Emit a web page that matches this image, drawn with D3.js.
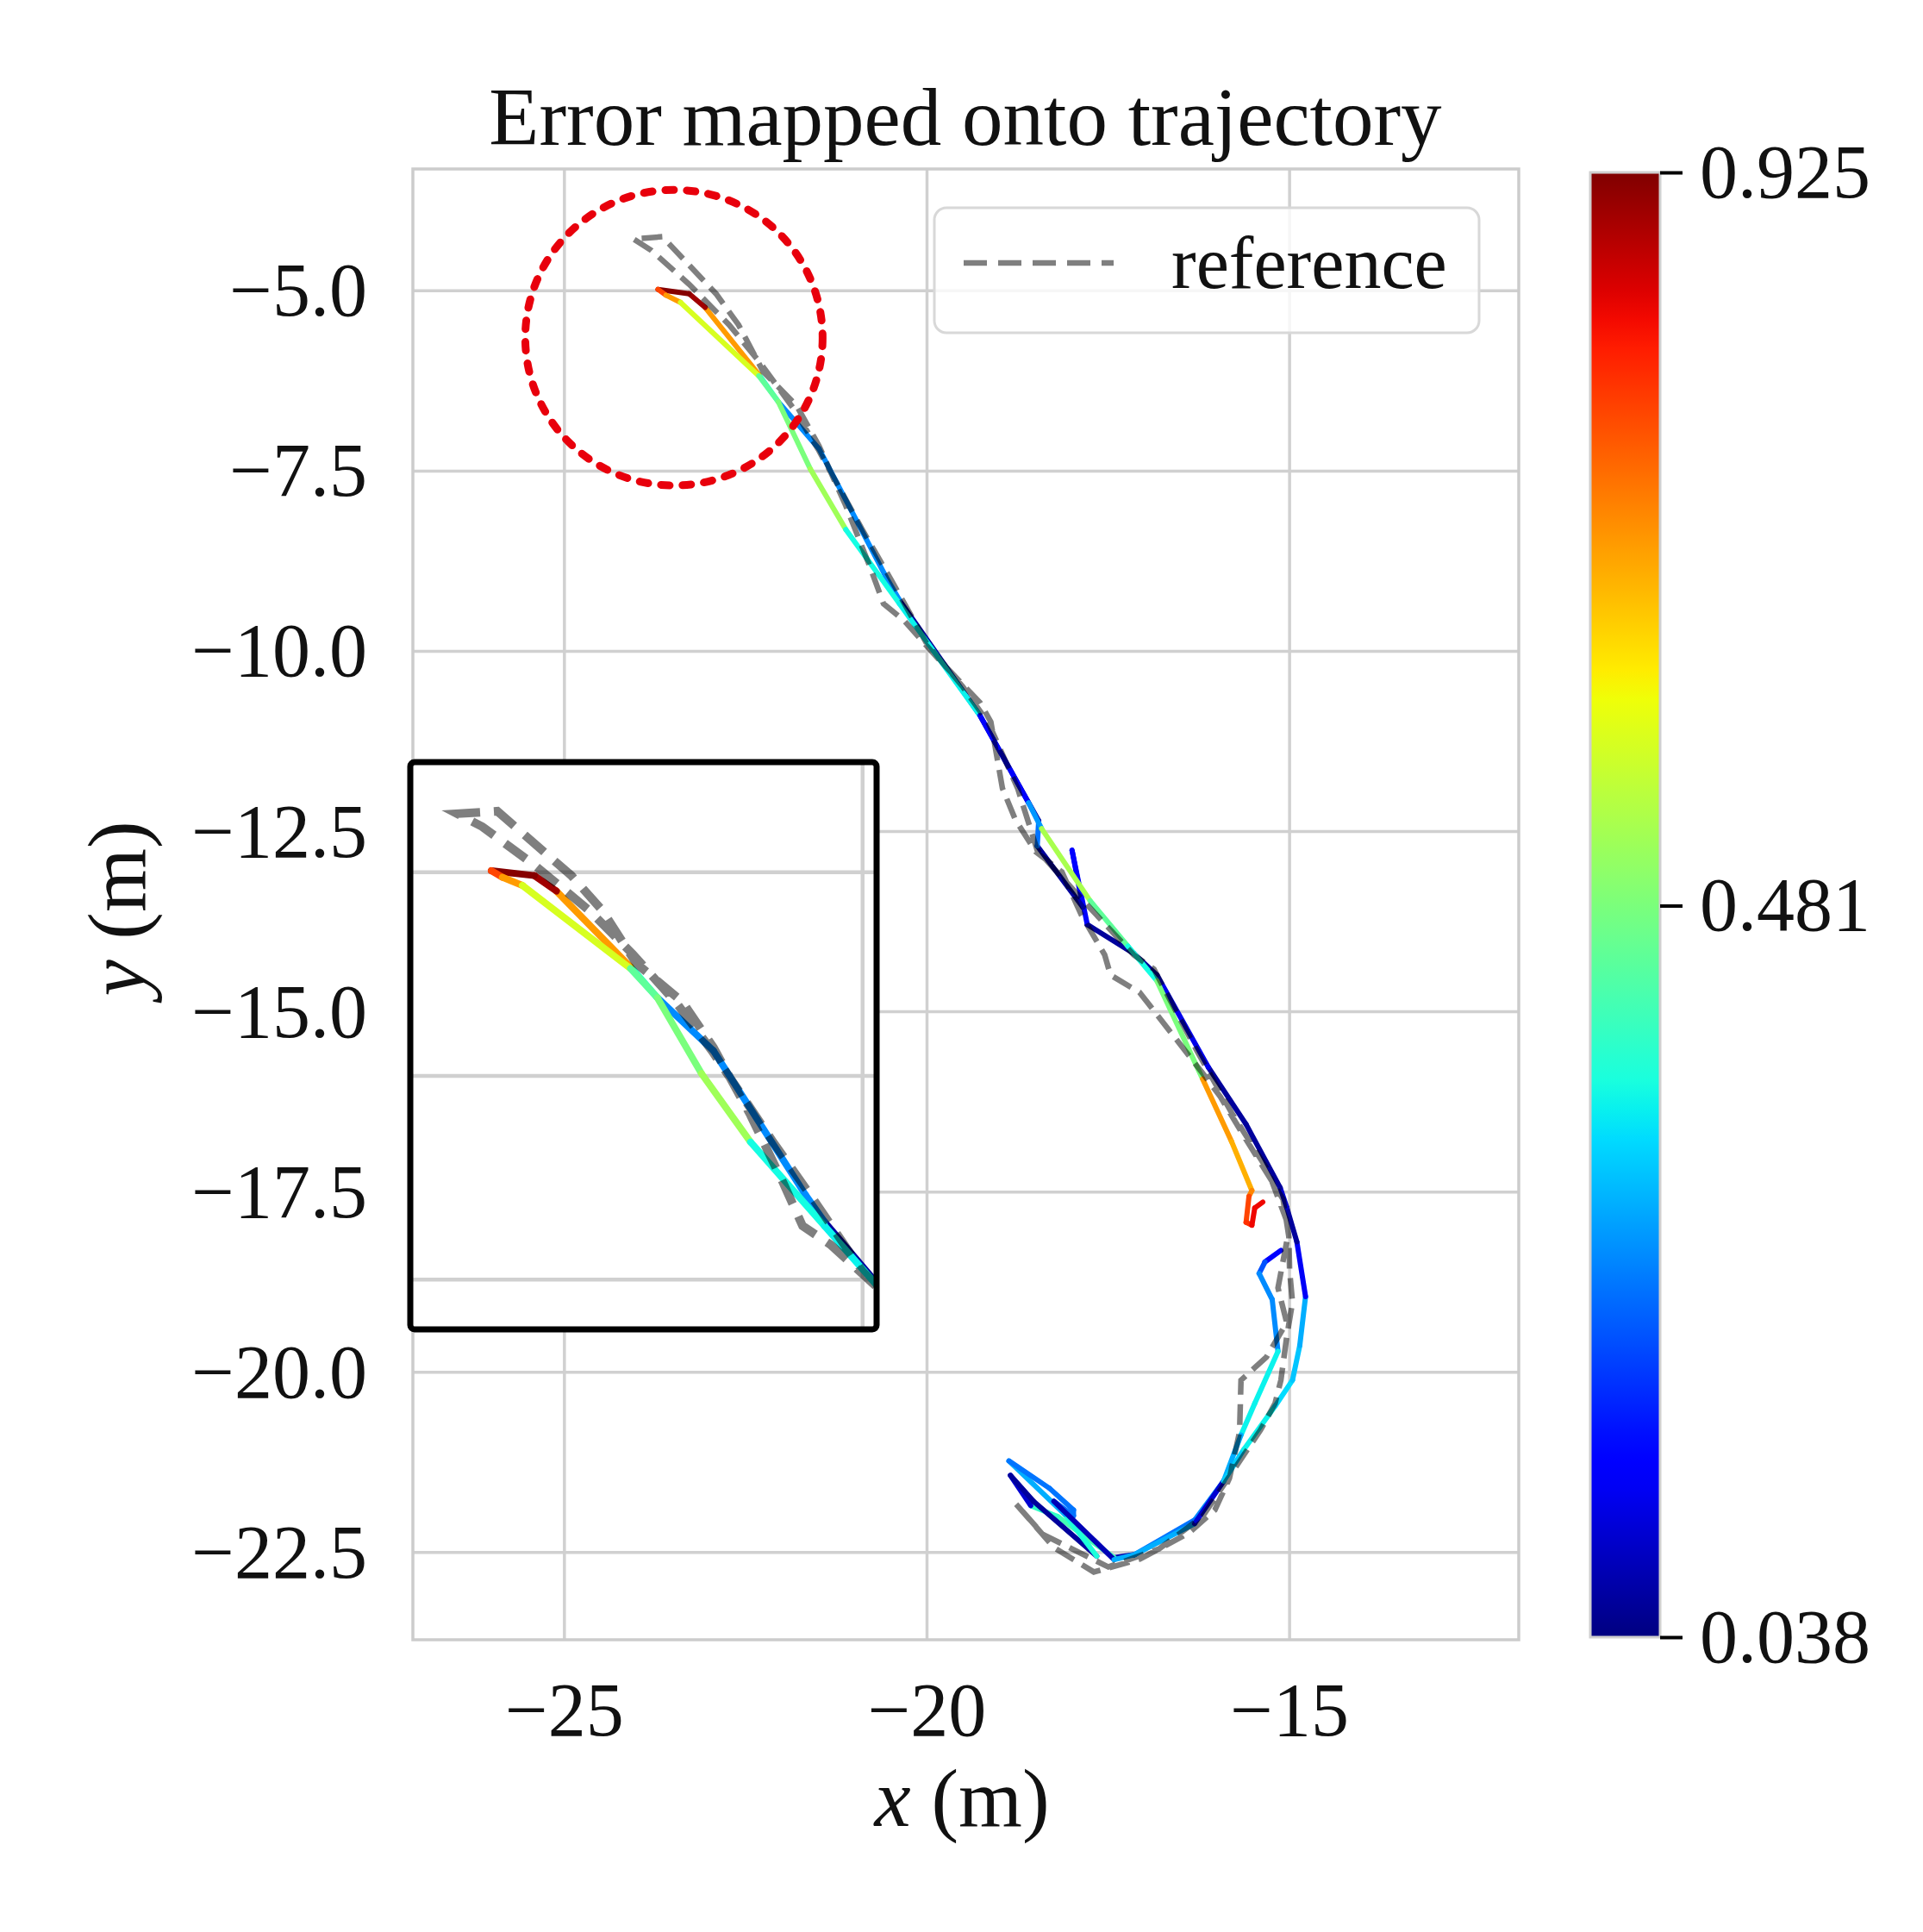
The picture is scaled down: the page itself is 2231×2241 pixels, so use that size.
<!DOCTYPE html>
<html lang="en">
<head>
    <meta charset="UTF-8">
    <title>Error mapped onto trajectory</title>
    <style>
        body {
            margin: 0;
            background-color: #ffffff;
            overflow: hidden;
        }
        svg text {
            font-family: "Liberation Serif", "DejaVu Serif", serif;
            fill: #111;
        }
        .grid line {
            stroke: #d0d0d0;
        }
        .tick-label {
            font-size: 88px;
        }
    </style>
</head>
<body>
    <svg id="chart" width="2231" height="2241"></svg>

    <script src="https://d3js.org/d3.v7.min.js"></script>
    <script>
        // estimated trajectory (x, y in metres) and error per segment
        const estX = [-15.12, -15.34, -15.42, -15.24, -15.16, -15.48, -15.67, -15.91, -16.31, -17.14,
                      -17.42, -18.20, -18.57, -18.85, -18.53, -17.66, -18.10, -18.87, -18.31, -17.98,
                      -17.98, -18.25, -17.42, -17.14, -16.31, -15.91, -15.63, -15.20, -14.96, -14.86,
                      -14.78, -14.90, -15.04, -15.13, -15.60, -16.12, -16.83, -17.15, -17.79, -18.00,
                      -17.85, -18.48, -18.46, -19.27, -20.38, -20.57, -21.49, -22.05, -22.32, -23.06,
                      -23.28, -23.71, -23.60, -23.40, -22.32, -22.05, -21.61, -21.12, -20.38, -19.27,
                      -18.60, -18.42, -17.75, -17.23, -16.83, -16.20, -15.80, -15.52, -15.56, -15.60,
                      -15.52, -15.48, -15.37];
        const estY = [-18.31, -18.47, -18.63, -18.99, -19.71, -20.43, -20.87, -21.51, -22.05, -22.53,
                      -22.57, -22.00, -21.85, -21.43, -21.79, -22.55, -21.97, -21.23, -21.61, -21.91,
                      -21.99, -21.79, -22.60, -22.53, -22.10, -21.51, -21.07, -20.47, -20.11, -19.63,
                      -18.95, -18.19, -17.71, -17.44, -16.56, -15.77, -14.49, -14.19, -13.79, -12.76,
                      -13.55, -12.70, -12.35, -10.89, -9.29, -8.96, -7.19, -6.54, -6.16, -5.23,
                      -5.04, -4.98, -5.06, -5.16, -6.18, -6.54, -7.47, -8.31, -9.34, -10.89,
                      -12.10, -12.46, -13.46, -14.09, -14.57, -15.93, -16.80, -17.48, -17.56, -17.92,
                      -17.96, -17.72, -17.64];
        const estErr = [0.14, 0.22, 0.27, 0.27, 0.36, 0.36, 0.30, 0.27, 0.25, 0.07,
                        0.42, 0.40, 0.10, 0.06, 0.06, 0.38, 0.30, 0.25, 0.25, 0.25,
                        0.25, 0.08, 0.30, 0.30, 0.10, 0.33, 0.36, 0.34, 0.32, 0.30,
                        0.13, 0.06, 0.10, 0.06, 0.06, 0.12, 0.06, 0.06, 0.15, 0.15,
                        0.06, 0.25, 0.06, 0.06, 0.27, 0.27, 0.27, 0.40, 0.70, 0.90,
                        0.92, 0.78, 0.70, 0.58, 0.45, 0.48, 0.52, 0.37, 0.36, 0.14,
                        0.28, 0.53, 0.45, 0.37, 0.48, 0.70, 0.68, 0.72, 0.78, 0.80,
                        0.84, 0.84, 0.84];

        // reference trajectory (ground truth)
        const refX = [-15.04, -15.16, -15.04, -15.32, -15.67, -15.69, -15.83, -16.03, -16.39, -17.06,
                      -17.70, -18.25, -18.77, -18.40, -17.50, -16.80, -16.20, -15.80, -15.40, -15.20,
                      -15.12, -15.04, -14.96, -15.00, -15.01, -15.09, -15.68, -15.96, -16.20, -17.07,
                      -17.47, -17.55, -17.87, -18.14, -18.50, -18.78, -18.96, -19.12, -19.27, -19.83,
                      -20.32, -20.60, -20.79, -21.12, -21.49, -21.80, -22.26, -22.60, -22.91, -23.65,
                      -24.05, -23.80, -23.28, -22.73, -22.30, -21.85, -21.50, -20.90, -20.50, -20.00,
                      -19.50, -19.15, -18.75, -18.48, -17.90, -17.15, -16.87, -16.30, -15.80, -15.30,
                      -15.04];
        const refY = [-18.19, -18.83, -19.31, -19.79, -20.11, -20.83, -21.47, -21.91, -22.23, -22.59,
                      -22.77, -22.43, -21.83, -22.25, -22.70, -22.45, -22.00, -21.40, -20.80, -20.43,
                      -20.11, -19.51, -19.03, -18.59, -18.12, -17.60, -16.64, -16.17, -15.85, -14.73,
                      -14.49, -14.21, -13.66, -13.06, -12.78, -12.34, -11.90, -10.98, -10.71, -10.12,
                      -9.57, -9.34, -8.82, -7.98, -7.15, -6.59, -6.12, -5.47, -5.04, -4.25,
                      -4.28, -4.44, -4.91, -5.47, -6.00, -6.62, -7.20, -8.30, -9.00, -9.90,
                      -10.50, -11.00, -11.90, -12.76, -13.40, -14.21, -14.41, -15.50, -16.40, -17.20,
                      -17.90];

        const xTicks = [-25, -20, -15];
        const yTicks = [-5.0, -7.5, -10.0, -12.5, -15.0, -17.5, -20.0, -22.5];
        const errTicks = [0.038, 0.481, 0.925];
        const errRange = [0.038, 0.925];

        // highlighted region (data units) and the window shown in the inset
        const circleCenter = [-23.49, -5.65];
        const circleRadius = 2.05;
        const insetXDomain = [-24.52, -19.86];
        const insetYDomain = [-3.647, -10.61];

        // matplotlib "jet" colormap
        function jet(t) {
            t = Math.max(0, Math.min(1, t));
            const piece = (pts) => {
                for (let i = 1; i < pts.length; i++) {
                    if (t <= pts[i][0]) {
                        const [t0, v0] = pts[i - 1], [t1, v1] = pts[i];
                        return v0 + (v1 - v0) * (t - t0) / (t1 - t0);
                    }
                }
                return pts[pts.length - 1][1];
            };
            const r = piece([[0, 0], [0.35, 0], [0.66, 1], [0.89, 1], [1, 0.5]]);
            const g = piece([[0, 0], [0.125, 0], [0.375, 1], [0.64, 1], [0.91, 0], [1, 0]]);
            const b = piece([[0, 0.5], [0.11, 1], [0.34, 1], [0.65, 0], [1, 0]]);
            return d3.rgb(r * 255, g * 255, b * 255).formatHex();
        }
        const errNorm = d3.scaleLinear().domain(errRange).range([0, 1]).clamp(true);
        const errColour = d => jet(errNorm(d));

        const svg = d3.select("#chart");
        const plot = { left: 479, right: 1762, top: 196, bottom: 1902 };

        const x = d3.scaleLinear().domain([-27.09, -11.84]).range([plot.left, plot.right]);
        const y = d3.scaleLinear().domain([-3.31, -23.71]).range([plot.top, plot.bottom]);

        const estPts = estX.map((v, i) => [v, estY[i], estErr[i]]);
        const refPts = refX.map((v, i) => [v, refY[i]]);

        // draws grid, trajectory and reference with the given scales
        function drawTrack(g, sx, sy, gridW, lineW, dashW, dash) {
            g.append("g").attr("class", "grid")
                .selectAll("line.h").data(yTicks).enter().append("line")
                .attr("x1", sx.range()[0]).attr("x2", sx.range()[1])
                .attr("y1", d => sy(d)).attr("y2", d => sy(d))
                .style("stroke-width", gridW);
            g.append("g").attr("class", "grid")
                .selectAll("line.v").data(xTicks).enter().append("line")
                .attr("y1", sy.range()[0]).attr("y2", sy.range()[1])
                .attr("x1", d => sx(d)).attr("x2", d => sx(d))
                .style("stroke-width", gridW);

            g.append("g").selectAll("line").data(d3.pairs(estPts)).enter().append("line")
                .attr("x1", d => sx(d[0][0])).attr("y1", d => sy(d[0][1]))
                .attr("x2", d => sx(d[1][0])).attr("y2", d => sy(d[1][1]))
                .attr("stroke", d => errColour(d[0][2]))
                .attr("stroke-width", lineW)
                .attr("stroke-linecap", "round");

            const line = d3.line().x(d => sx(d[0])).y(d => sy(d[1]));
            g.append("path")
                .attr("d", line(refPts))
                .attr("fill", "none")
                .attr("stroke", "#000")
                .attr("stroke-opacity", 0.5)
                .attr("stroke-width", dashW)
                .attr("stroke-dasharray", dash);
        }

        // main axes
        const main = svg.append("g");
        drawTrack(main, x, y, 3.5, 6, 6.5, "24 11");

        main.append("rect")
            .attr("x", plot.left).attr("y", plot.top)
            .attr("width", plot.right - plot.left).attr("height", plot.bottom - plot.top)
            .attr("fill", "none").attr("stroke", "#cccccc").attr("stroke-width", 3.5);

        // tick labels
        svg.append("g").selectAll("text").data(xTicks).enter().append("text")
            .attr("class", "tick-label")
            .attr("x", d => x(d)).attr("y", 2013)
            .attr("text-anchor", "middle")
            .text(d => d3.format("d")(d));
        svg.append("g").selectAll("text").data(yTicks).enter().append("text")
            .attr("class", "tick-label")
            .attr("x", 426).attr("y", d => y(d) + 29)
            .attr("text-anchor", "end")
            .text(d => d3.format(".1f")(d));

        // title and axis labels
        svg.append("text")
            .attr("x", 1120).attr("y", 168)
            .attr("text-anchor", "middle")
            .style("font-size", "95px")
            .text("Error mapped onto trajectory");

        const xl = svg.append("text")
            .attr("x", 1116).attr("y", 2118)
            .attr("text-anchor", "middle")
            .style("font-size", "95px");
        xl.append("tspan").style("font-style", "italic").text("x");
        xl.append("tspan").text(" (m)");

        const yl = svg.append("text")
            .attr("transform", "translate(168,1054) rotate(-90)")
            .attr("text-anchor", "middle")
            .style("font-size", "95px");
        yl.append("tspan").style("font-style", "italic").text("y");
        yl.append("tspan").text(" (m)");

        // legend
        const legend = svg.append("g");
        legend.append("rect")
            .attr("x", 1084).attr("y", 241).attr("width", 632).attr("height", 145)
            .attr("rx", 14)
            .attr("fill", "#fff").attr("fill-opacity", 0.8)
            .attr("stroke", "#d8d8d8").attr("stroke-width", 3);
        legend.append("line")
            .attr("x1", 1118).attr("x2", 1292).attr("y1", 305).attr("y2", 305)
            .attr("stroke", "#000").attr("stroke-opacity", 0.5)
            .attr("stroke-width", 6.5).attr("stroke-dasharray", "27 13");
        legend.append("text")
            .attr("x", 1359).attr("y", 334)
            .style("font-size", "86px")
            .text("reference");

        // red dotted circle around the start region
        svg.append("ellipse")
            .attr("cx", x(circleCenter[0])).attr("cy", y(circleCenter[1]))
            .attr("rx", x(circleCenter[0] + circleRadius) - x(circleCenter[0]))
            .attr("ry", y(circleCenter[1] - circleRadius) - y(circleCenter[1]))
            .attr("fill", "none")
            .attr("stroke", "#e8000c")
            .attr("stroke-width", 9)
            .attr("stroke-linecap", "round")
            .attr("stroke-dasharray", "10 15");

        // magnified inset of the circled region
        const inset = { left: 476, right: 1017, top: 884, bottom: 1542 };
        const ix = d3.scaleLinear().domain(insetXDomain).range([inset.left, inset.right]);
        const iy = d3.scaleLinear().domain(insetYDomain).range([inset.top, inset.bottom]);

        svg.append("clipPath").attr("id", "inset-clip")
            .append("rect")
            .attr("x", inset.left).attr("y", inset.top)
            .attr("width", inset.right - inset.left).attr("height", inset.bottom - inset.top);

        const insetG = svg.append("g").attr("clip-path", "url(#inset-clip)");
        insetG.append("rect")
            .attr("x", inset.left).attr("y", inset.top)
            .attr("width", inset.right - inset.left).attr("height", inset.bottom - inset.top)
            .attr("fill", "#fff");
        drawTrack(insetG, ix, iy, 4.5, 8, 10, "30 16");

        svg.append("rect")
            .attr("x", inset.left).attr("y", inset.top)
            .attr("width", inset.right - inset.left).attr("height", inset.bottom - inset.top)
            .attr("rx", 5)
            .attr("fill", "none").attr("stroke", "#000").attr("stroke-width", 7);

        // colorbar
        const cbar = { left: 1845, right: 1926, top: 200, bottom: 1899 };
        const cy = d3.scaleLinear().domain(errRange).range([cbar.bottom, cbar.top]);

        const grad = svg.append("defs").append("linearGradient")
            .attr("id", "jet-grad")
            .attr("x1", 0).attr("y1", 1).attr("x2", 0).attr("y2", 0);
        grad.selectAll("stop").data(d3.range(0, 1.0001, 0.02)).enter().append("stop")
            .attr("offset", d => d)
            .attr("stop-color", d => jet(d));

        svg.append("rect")
            .attr("x", cbar.left).attr("y", cbar.top)
            .attr("width", cbar.right - cbar.left).attr("height", cbar.bottom - cbar.top)
            .attr("fill", "url(#jet-grad)")
            .attr("stroke", "#cfcfcf").attr("stroke-width", 3);

        const cAxis = svg.append("g")
            .attr("transform", `translate(${cbar.right},0)`)
            .call(d3.axisRight(cy).tickValues(errTicks).tickFormat(d3.format(".3f")).tickSize(26).tickPadding(20));
        cAxis.select(".domain").remove();
        cAxis.selectAll(".tick line").attr("stroke", "#000").attr("stroke-width", 4);
        cAxis.selectAll(".tick text")
            .attr("fill", "#111")
            .style("font-family", "'Liberation Serif', serif")
            .style("font-size", "88px");
    </script>
</body>
</html>
